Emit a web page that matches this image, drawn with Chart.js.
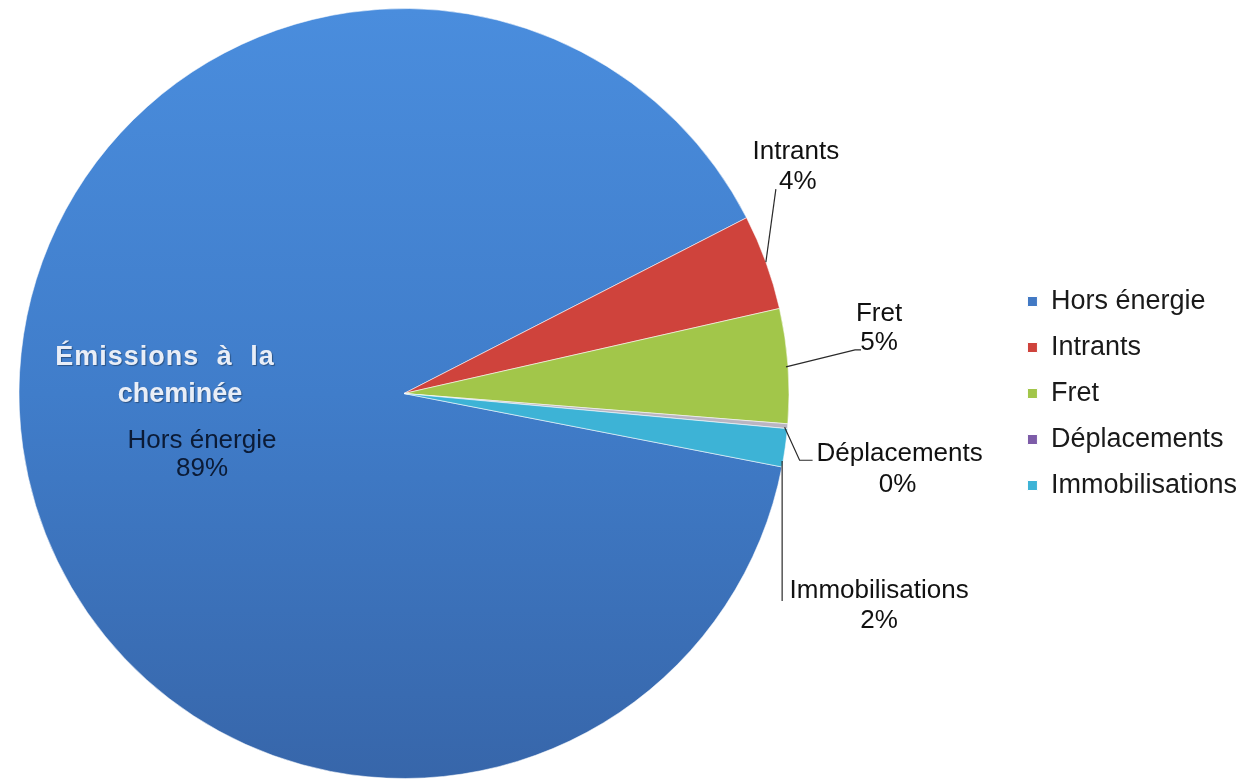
<!DOCTYPE html>
<html><head><meta charset="utf-8">
<script src="https://cdn.jsdelivr.net/npm/chart.js@4"></script>
<style>html,body{margin:0;padding:0;background:#fff;}canvas{display:block;}</style>
</head><body>
<canvas id="c" width="1247" height="781"></canvas>
<script>
// ---- data ----
const categories = ['Hors énergie', 'Intrants', 'Fret', 'Déplacements', 'Immobilisations'];
const shares = [89.4, 4.0, 4.8, 0.2, 1.6];
const noteLines = ['Émissions à la', 'cheminée'];

// ---- styles ----
const sliceColors = [null, '#cf433c', '#a2c64a', '#b9b5c2', '#3db3d6'];
const legendColors = ['#4279c4', '#cf433c', '#a2c64a', '#7d5ca8', '#3db3d6'];
const PIE_CENTER_X = 404, PIE_RADIUS = 385;
const LABEL_FONT = '26px "Liberation Sans", Arial, sans-serif';

// label placement relative to each slice's anchor point (mid-angle at fraction r of radius)
const labelLayout = [
  {r: 0.53, text: [[0, 19], [0, 47]], leader: null, color: '#0b1b36'},
  {r: 1, text: [[30, -110], [32, -80]], leader: [[0, 0], [10, -73]], color: '#111'},
  {r: 1, text: [[91, -52], [91, -23]], leader: [[-2, 1], [67, -16], [73, -16]], color: '#111'},
  {r: 1, text: [[112, 28], [110, 59]], leader: [[-3, 1], [12, 34], [25, 34]], color: '#111'},
  {r: 1, text: [[94, 143], [94, 173]], leader: [[-3, 13], [-3, 153]], color: '#111'}
];

const total = shares.reduce((a, b) => a + b, 0);

const pieCenter = {
  id: 'pieCenter',
  afterLayout(chart) {
    const a = chart.chartArea;
    a.left = PIE_CENTER_X - PIE_RADIUS;
    a.right = PIE_CENTER_X + PIE_RADIUS;
    a.width = a.right - a.left;
  }
};

const sliceLabels = {
  id: 'sliceLabels',
  afterDatasetsDraw(chart) {
    const ctx = chart.ctx;
    const meta = chart.getDatasetMeta(0);
    ctx.save();
    meta.data.forEach((arc, i) => {
      const p = arc.getProps(['x', 'y', 'startAngle', 'endAngle', 'outerRadius'], true);
      const mid = (p.startAngle + p.endAngle) / 2;
      const L = labelLayout[i];
      const ax = p.x + Math.cos(mid) * p.outerRadius * L.r;
      const ay = p.y + Math.sin(mid) * p.outerRadius * L.r;
      if (L.leader) {
        ctx.beginPath();
        ctx.strokeStyle = '#2a2a2a';
        ctx.lineWidth = 1.2;
        L.leader.forEach((pt, k) => {
          const X = ax + pt[0], Y = ay + pt[1];
          if (k === 0) ctx.moveTo(X, Y); else ctx.lineTo(X, Y);
        });
        ctx.stroke();
      }
      if (i === 0) {
        // note inside the big slice
        ctx.fillStyle = '#e9eef7';
        ctx.shadowColor = 'rgba(0,0,0,0.35)';
        ctx.shadowOffsetX = 1; ctx.shadowOffsetY = 1; ctx.shadowBlur = 1;
        ctx.font = 'bold 27px "Liberation Sans", Arial, sans-serif';
        ctx.textAlign = 'center';
        ctx.textBaseline = 'alphabetic';
        try { ctx.letterSpacing = '1px'; ctx.wordSpacing = '9px'; } catch (e) {}
        ctx.fillText(noteLines[0], ax - 37, ay - 57);
        try { ctx.wordSpacing = '0px'; ctx.letterSpacing = '0px'; } catch (e) {}
        ctx.fillText(noteLines[1], ax - 22, ay - 20);
        ctx.shadowColor = 'transparent';
        ctx.shadowOffsetX = 0; ctx.shadowOffsetY = 0; ctx.shadowBlur = 0;
      }
      ctx.fillStyle = L.color;
      ctx.font = LABEL_FONT;
      ctx.textAlign = 'center';
      ctx.textBaseline = 'middle';
      const pct = Math.round(shares[i] / total * 100) + '%';
      ctx.fillText(categories[i], ax + L.text[0][0], ay + L.text[0][1]);
      ctx.fillText(pct, ax + L.text[1][0], ay + L.text[1][1]);
    });
    ctx.restore();
  }
};

function sliceFill(c) {
  const i = c.dataIndex;
  const chart = c.chart;
  if (i === 0) {
    const a = chart.chartArea;
    if (!a) return '#4279c4';
    const g = chart.ctx.createLinearGradient(0, a.top, 0, a.bottom);
    g.addColorStop(0, '#4a8ddd');
    g.addColorStop(0.5, '#407dca');
    g.addColorStop(1, '#3766aa');
    return g;
  }
  return sliceColors[i];
}

new Chart(document.getElementById('c'), {
  type: 'pie',
  data: {
    labels: categories,
    datasets: [{
      data: shares,
      backgroundColor: sliceFill,
      borderColor: 'rgba(255,255,255,0.55)',
      borderWidth: 1,
      clip: false
    }]
  },
  options: {
    responsive: false,
    animation: false,
    devicePixelRatio: 1,
    rotation: 101,
    radius: PIE_RADIUS,
    layout: {padding: {top: 9, bottom: 3, left: 0, right: 0}},
    plugins: {
      tooltip: {enabled: false},
      legend: {
        position: 'right',
        labels: {
          font: {size: 27, family: '"Liberation Sans", Arial, sans-serif'},
          color: '#1a1a1a',
          boxWidth: 10,
          boxHeight: 10,
          padding: 19,
          generateLabels(chart) {
            const base = Chart.overrides.pie.plugins.legend.labels.generateLabels(chart);
            return base.map((it, i) => Object.assign(it, {fillStyle: legendColors[i], strokeStyle: '#ffffff', lineWidth: 1}));
          }
        }
      }
    }
  },
  plugins: [pieCenter, sliceLabels]
});
</script>
</body></html>
